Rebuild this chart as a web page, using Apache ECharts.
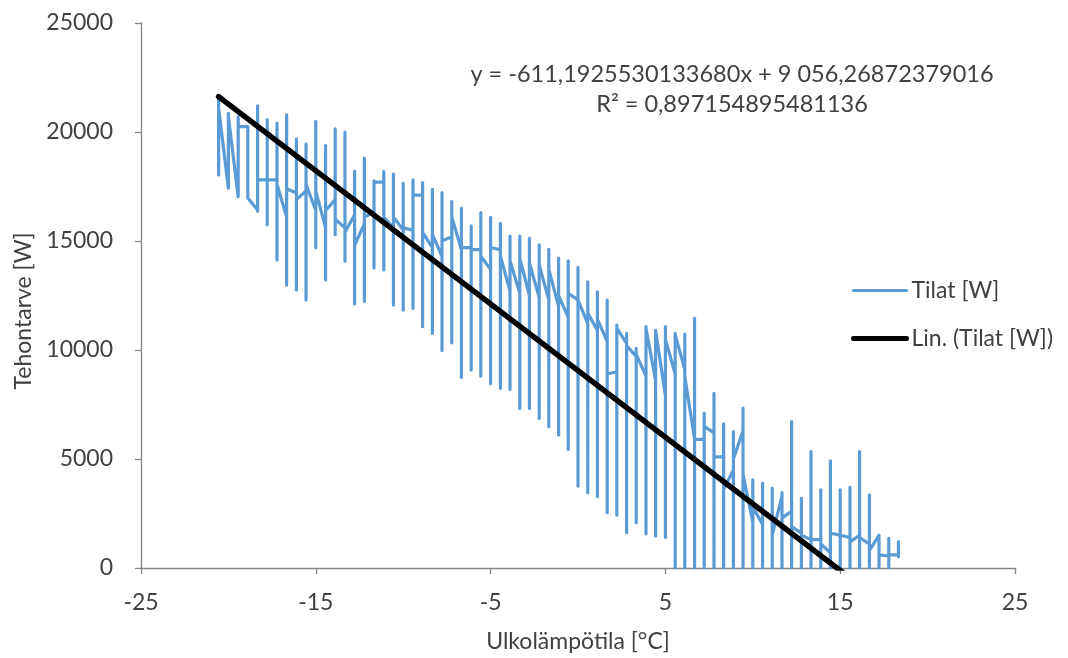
<!DOCTYPE html>
<html>
<head>
<meta charset="utf-8">
<script src="https://cdn.jsdelivr.net/npm/echarts@6/dist/echarts.min.js"></script>
<style>
html,body{margin:0;padding:0;background:#fff;}
#chart{width:1068px;height:658px;}
</style>
</head>
<body>
<div id="chart"></div>
<script>
// Outdoor temperature (°C) positions of the measured values
const temps = [-20.56,-20.00,-19.44,-18.89,-18.33,-17.78,-17.22,-16.67,-16.11,-15.56,-15.00,-14.44,-13.89,-13.33,-12.78,-12.22,-11.67,-11.11,-10.56,-10.00,-9.44,-8.89,-8.33,-7.78,-7.22,-6.67,-6.11,-5.56,-5.00,-4.44,-3.89,-3.33,-2.78,-2.22,-1.67,-1.11,-0.56,0.00,0.56,1.11,1.67,2.22,2.78,3.33,3.89,4.44,5.00,5.56,6.11,6.67,7.22,7.78,8.33,8.89,9.44,10.00,10.56,11.11,11.67,12.22,12.78,13.33,13.89,14.44,15.00,15.56,16.11,16.67,17.22,17.78,18.33];
// value where the line arrives at each temperature
const bandIn = [18030,17420,17030,20250,16420,17800,17800,16100,17200,17300,16400,15600,16900,15600,16200,15800,16300,17700,15600,15500,15500,17100,14700,14300,15200,14600,14700,14600,13700,14600,12700,12600,12500,12400,12300,12000,11500,12300,11200,10900,10400,9000,10300,9700,8800,8600,7900,8900,9100,5900,5900,6200,5100,4500,6300,2100,2000,2300,3300,2600,1600,1300,1300,700,1500,1400,1500,1100,1500,550,600];
// highest value at each temperature
const tops = [21620,20860,20700,20250,21200,20570,20410,20790,19690,19450,20490,19380,20140,19990,18190,18800,17760,18180,18070,17650,17800,17680,17370,17220,16810,16500,15690,16300,16090,15810,15230,15230,15120,14820,14620,14210,14090,13790,13130,12670,12290,11140,10760,10070,11070,10880,11070,10760,10730,11450,7100,8010,6610,6260,7330,4040,3890,3660,3460,6710,3200,5340,3580,4910,3580,3700,5340,3350,1560,1360,1210];
// lowest value at each temperature
const bottoms = [18030,17420,17030,16970,16360,15750,14130,12980,12750,12290,14680,13220,15290,14070,12110,12230,13760,13670,12060,11830,11910,11070,10760,9970,10330,8740,9080,8800,8460,8240,8190,7320,7320,6860,6480,6100,5440,3760,3450,3270,2540,2430,1620,2080,1560,1470,1400,0,0,0,0,0,0,0,0,0,0,0,0,0,0,0,0,0,0,0,0,0,0,0,520];
// value where the line leaves each temperature
const bandOut = [21100,20700,20250,17030,17800,17800,17600,17400,16900,17600,17300,16400,16000,15400,14800,16100,17700,16100,16100,15600,17100,15400,15300,15000,16100,14700,14600,14300,14700,14300,14100,14200,14000,13900,13700,12500,12600,12300,11700,11400,8900,11000,10200,9800,11000,10900,10500,10700,8800,5900,6500,5100,3600,5000,4300,2800,2600,1500,2300,1900,1500,1300,1100,1600,1500,1200,1400,800,600,600,650];
// linear trendline end points (Excel trendline over the data range)
const trendX = [-20.56, 18.33];
const trendY = [21623, -2147];

const xTicks = [-25, 25, 10];
const yTicks = [0, 25000, 5000];

const seriesData = [];
for (let i = 0; i < temps.length; i++) {
  seriesData.push([temps[i], bandIn[i]]);
  seriesData.push([temps[i], tops[i]]);
  seriesData.push([temps[i], bottoms[i]]);
  seriesData.push([temps[i], bandOut[i]]);
}
const trendData = trendX.map((x, i) => [x, trendY[i]]);

const FONT = 'Lato';
const FS = 23;
const TXT = '#404040';
const AX = '#868686';

const chart = echarts.init(document.getElementById('chart'), null, {renderer: 'canvas'});
chart.setOption({
  animation: false,
  backgroundColor: '#ffffff',
  grid: {left: 141, right: 53, top: 23, bottom: 90},
  xAxis: {
    type: 'value', min: xTicks[0], max: xTicks[1], interval: xTicks[2],
    axisLine: {show: true, onZero: false, lineStyle: {color: AX, width: 1.3}},
    axisTick: {show: true, inside: false, length: 6, lineStyle: {color: AX, width: 1.3}},
    splitLine: {show: false},
    axisLabel: {color: TXT, fontFamily: FONT, fontSize: FS, margin: 23, formatter: v => String(v)},
    name: 'Ulkolämpötila [°C]', nameLocation: 'middle', nameGap: 62,
    nameTextStyle: {color: TXT, fontFamily: FONT, fontSize: FS}
  },
  yAxis: {
    type: 'value', min: yTicks[0], max: yTicks[1], interval: yTicks[2],
    axisLine: {show: true, onZero: false, lineStyle: {color: AX, width: 1.3}},
    axisTick: {show: true, inside: false, length: 6, lineStyle: {color: AX, width: 1.3}},
    splitLine: {show: false},
    axisLabel: {color: TXT, fontFamily: FONT, fontSize: FS, margin: 28, formatter: v => String(v)}
  },
  legend: {
    orient: 'vertical', left: 846, top: 274, itemWidth: 53, itemHeight: 14, itemGap: 25,
    textStyle: {color: TXT, fontFamily: FONT, fontSize: FS},
    itemStyle: {opacity: 0},
    data: [
      {name: 'Tilat [W]', lineStyle: {width: 3, color: '#5B9BD5'}},
      {name: 'Lin. (Tilat [W])', lineStyle: {width: 5, color: '#000000'}}
    ]
  },
  graphic: [
    {type: 'text', x: 732, y: 74, style: {text: 'y = -611,1925530133680x + 9 056,26872379016', fill: TXT, font: '23.5px Lato', textAlign: 'center', textVerticalAlign: 'middle'}},
    {type: 'text', x: 732, y: 104, style: {text: 'R² = 0,897154895481136', fill: TXT, font: '23.5px Lato', textAlign: 'center', textVerticalAlign: 'middle'}},
    {type: 'text', x: 24, y: 311, rotation: Math.PI / 2, style: {text: 'Tehontarve [W]', fill: TXT, font: FS + 'px Lato', textAlign: 'center', textVerticalAlign: 'middle'}}
  ],
  series: [
    {
      name: 'Tilat [W]', type: 'line', data: seriesData, symbol: 'none', clip: true,
      lineStyle: {color: '#5B9BD5', width: 3.2, cap: 'round', join: 'round'},
      itemStyle: {color: '#5B9BD5'}, z: 2
    },
    {
      name: 'Lin. (Tilat [W])', type: 'line', data: trendData, symbol: 'none', clip: true,
      lineStyle: {color: '#000000', width: 5.5, cap: 'round'},
      itemStyle: {color: '#000000'}, z: 3
    }
  ]
});
</script>
</body>
</html>
